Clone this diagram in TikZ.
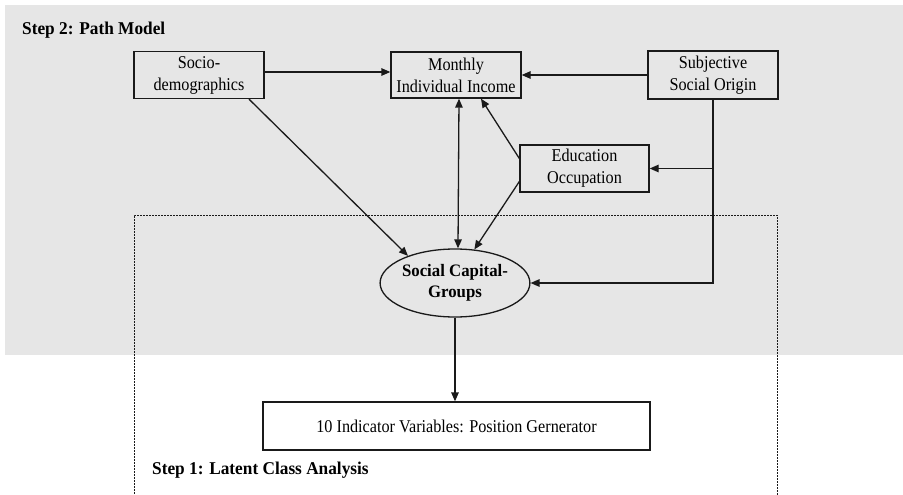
\documentclass[tikz,border=0pt]{standalone}
\usepackage{fontspec}
\setmainfont{Liberation Serif}[FakeStretch=0.9]
\newfontfamily\boldserif{Liberation Serif}[FakeStretch=0.96]
\usetikzlibrary{arrows.meta,shapes.geometric}
\definecolor{bggray}{HTML}{E6E6E6}
\definecolor{ink}{HTML}{1A1A1A}
\begin{document}
\begin{tikzpicture}[x=1pt,y=-1pt,
  box/.style={draw=ink,line width=1.3pt,align=center,inner sep=0pt,
    font=\fontsize{18}{22}\selectfont},
  latent/.style={ellipse,draw=ink,line width=1.3pt,align=center,inner sep=0pt,
    minimum width=131pt,minimum height=68pt,font=\boldserif\bfseries\fontsize{17.5}{21}\selectfont},
  arr/.style={draw=ink,line width=1.3pt,-{Triangle[length=9pt,width=7.5pt]}},
  arrb/.style={draw=ink,line width=1.3pt,{Triangle[length=9pt,width=7.5pt]}-{Triangle[length=9pt,width=7.5pt]}},
  steplabel/.style={anchor=west,inner sep=0pt,font=\boldserif\bfseries\fontsize{18}{20}\selectfont}
]
\useasboundingbox (0,0) rectangle (903,495);
\fill[bggray] (5,5) rectangle (903,355);
\draw[ink,line width=1pt,dash pattern=on 2pt off 1pt] (134,500) -- (134,215) -- (777,215) -- (777,500);

\node[steplabel] (step2) at (22,30) {Step 2: Path Model};
\node[steplabel] (step1) at (152,470) {Step 1: Latent Class Analysis};

\node[box,minimum width=130pt,minimum height=47pt] (socio) at (199,75) {Socio-\\demographics};
\node[box,minimum width=130pt,minimum height=46pt] (income) at (456,75) {Monthly\\Individual Income};
\node[box,minimum width=130pt,minimum height=48pt] (subj) at (713,75) {Subjective\\Social Origin};
\node[box,minimum width=129pt,minimum height=47pt] (edu) at (584.5,168.5) {Education\\Occupation};
\node[latent] (scg) at (455,283) {Social Capital-\\Groups};
\node[box,minimum width=387pt,minimum height=48pt] (ind) at (456.5,426) {10 Indicator Variables: Position Gernerator};

\draw[arr] ([yshift=3pt]socio.east) -- ([yshift=3pt]income.west);
\draw[arr] (subj.west) -- (income.east);
\draw[arrb] ([xshift=3pt]income.south) -- ([xshift=3pt]scg.north);
\draw[arr] ([yshift=10pt]edu.west) -- ([xshift=25pt]income.south);
\draw[arr] ([yshift=-13pt]edu.west) -- (scg.60);
\draw[arr] ([xshift=50pt]socio.south) -- (scg.150);
\draw[arr] (subj.south) |- (scg.east);
\draw[arr] (subj.south |- edu.east) -- (edu.east);
\draw[arr] (scg.south) -- (scg.south |- ind.north);
\end{tikzpicture}
\end{document}
